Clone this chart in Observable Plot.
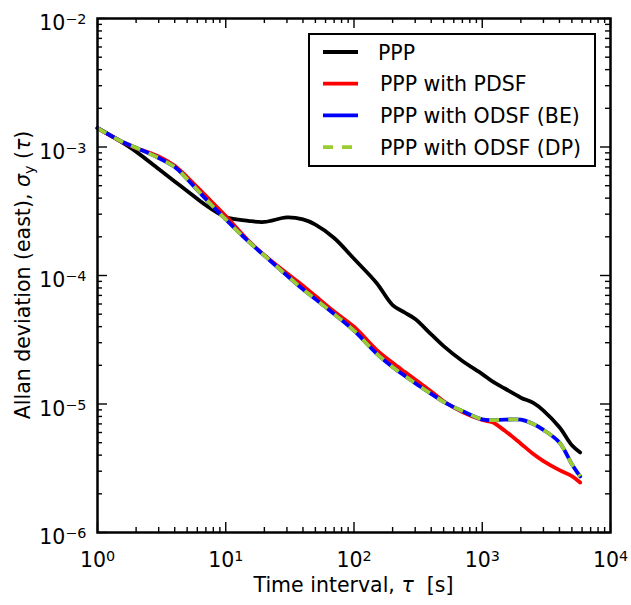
<!DOCTYPE html>
<html><head><meta charset="utf-8">
<script src="https://cdn.jsdelivr.net/npm/d3@7"></script>
<script src="https://cdn.jsdelivr.net/npm/@observablehq/plot@0.6"></script>
<style>body{margin:0;background:#fff} svg{display:block}</style>
</head><body><div id="chart"></div>
<script>
const tau = [1,1.5,2,3,4,5,7,10,15,20,30,40,50,70,100,150,200,250,300,400,500,700,1000,1200,1500,2000,2500,3000,4000,5000,5800];
const ppp = [1.406e-3,1.111e-3,9.21e-4,6.73e-4,5.40e-4,4.55e-4,3.52e-4,2.85e-4,2.66e-4,2.61e-4,2.83e-4,2.73e-4,2.49e-4,1.96e-4,1.35e-4,8.75e-5,5.89e-5,5.13e-5,4.58e-5,3.48e-5,2.82e-5,2.16e-5,1.71e-5,1.50e-5,1.32e-5,1.12e-5,1.02e-5,8.89e-6,6.59e-6,4.78e-6,4.20e-6];
const pppPDSF = [1.40e-3,1.115e-3,9.83e-4,8.45e-4,7.15e-4,5.83e-4,4.16e-4,2.90e-4,1.87e-4,1.44e-4,1.04e-4,8.34e-5,6.92e-5,5.24e-5,3.99e-5,2.64e-5,2.09e-5,1.77e-5,1.55e-5,1.25e-5,1.05e-5,8.65e-6,7.5e-6,7.2e-6,6.19e-6,4.91e-6,4.08e-6,3.60e-6,3.06e-6,2.75e-6,2.45e-6];
const pppODSF_BE = [1.40e-3,1.12e-3,9.86e-4,8.21e-4,6.98e-4,5.63e-4,3.93e-4,2.73e-4,1.84e-4,1.43e-4,1.00e-4,7.82e-5,6.55e-5,5.01e-5,3.72e-5,2.47e-5,1.94e-5,1.65e-5,1.45e-5,1.20e-5,1.04e-5,8.81e-6,7.6e-6,7.5e-6,7.55e-6,7.55e-6,7.00e-6,6.29e-6,5.02e-6,3.40e-6,2.73e-6];
const pppODSF_DP = [1.40e-3,1.12e-3,9.86e-4,8.21e-4,6.98e-4,5.63e-4,3.93e-4,2.73e-4,1.84e-4,1.43e-4,1.00e-4,7.82e-5,6.55e-5,5.01e-5,3.72e-5,2.47e-5,1.94e-5,1.65e-5,1.45e-5,1.20e-5,1.04e-5,8.81e-6,7.6e-6,7.5e-6,7.55e-6,7.55e-6,7.00e-6,6.29e-6,5.02e-6,3.40e-6,2.73e-6];
const seriesNames = ["PPP","PPP with PDSF","PPP with ODSF (BE)","PPP with ODSF (DP)"];
const seriesColors = ["#000000","#ff0000","#0000ff","#9acd32"];
const xMajorTicks = [1,10,100,1000,10000];
const yMajorTicks = [1e-6,1e-5,1e-4,1e-3,1e-2];
const xTickLabels = ["10^0","10^1","10^2","10^3","10^4"];
const yTickLabels = ["10^\u22126","10^\u22125","10^\u22124","10^\u22123","10^\u22122"];
const minorMultipliers = [2,3,4,5,6,7,8,9];
const xMinorTicks = xMajorTicks.slice(0,-1).flatMap(m => minorMultipliers.map(k => m*k));
const yMinorTicks = yMajorTicks.slice(0,-1).flatMap(m => minorMultipliers.map(k => m*k));

const W = 631, H = 605, mL = 97, mR = 21, mT = 18, mB = 73;
const innerW = W - mL - mR, innerH = H - mT - mB;
const FS = 20.5;
const DASH = "10,9";

const allSeries = [ppp, pppPDSF, pppODSF_BE, pppODSF_DP];
const rows = allSeries.map((vals, s) => tau.map((t, i) => ({tau: t, sigma: vals[i], series: seriesNames[s]})));

const lineOpts = (s) => ({x: "tau", y: "sigma", stroke: seriesColors[s], strokeWidth: 3.8, curve: "catmull-rom",
  strokeDasharray: s === 3 ? DASH : null, strokeLinecap: s === 3 ? "butt" : "round"});

const tk = {stroke: "black", strokeWidth: 1.4};
const chart = Plot.plot({
  width: W, height: H,
  marginLeft: mL, marginRight: mR, marginTop: mT, marginBottom: mB,
  style: {fontFamily: "DejaVu Sans", fontSize: FS + "px", background: "white"},
  x: {type: "log", domain: [1, 1e4]},
  y: {type: "log", domain: [1e-6, 1e-2]},
  marks: [
    ...rows.map((r, s) => Plot.line(r, lineOpts(s))),
    Plot.ruleX(xMajorTicks, {x: d => d, insetTop: innerH - 10, ...tk}),
    Plot.ruleX(xMajorTicks, {x: d => d, insetBottom: innerH - 10, ...tk}),
    Plot.ruleX(xMinorTicks, {x: d => d, insetTop: innerH - 5, ...tk}),
    Plot.ruleX(xMinorTicks, {x: d => d, insetBottom: innerH - 5, ...tk}),
    Plot.ruleY(yMajorTicks, {y: d => d, insetRight: innerW - 10, ...tk}),
    Plot.ruleY(yMajorTicks, {y: d => d, insetLeft: innerW - 10, ...tk}),
    Plot.ruleY(yMinorTicks, {y: d => d, insetRight: innerW - 5, ...tk}),
    Plot.ruleY(yMinorTicks, {y: d => d, insetLeft: innerW - 5, ...tk}),
    Plot.frame({stroke: "black", strokeWidth: 2.5}),
    Plot.axisX(xMajorTicks, {tickSize: 0, tickPadding: 20, label: null, fontSize: FS,
      tickFormat: d => xTickLabels[xMajorTicks.indexOf(d)]}),
    Plot.axisY(yMajorTicks, {tickSize: 0, tickPadding: 11, label: null, fontSize: FS, dy: 5,
      tickFormat: d => yTickLabels[yMajorTicks.indexOf(d)]})
  ]
});

document.getElementById("chart").appendChild(chart);
const svgns = "http://www.w3.org/2000/svg";

// superscripts in tick labels
chart.querySelectorAll('[aria-label="x-axis tick label"] text, [aria-label="y-axis tick label"] text').forEach(t => {
  const s = t.textContent;
  if (!s.includes("^")) return;
  const [b, e] = s.split("^");
  t.textContent = b;
  const ts = document.createElementNS(svgns, "tspan");
  ts.setAttribute("dy", "-0.42em");
  ts.style.fontSize = (FS * 0.7) + "px";
  ts.textContent = e;
  t.appendChild(ts);
});

const svg = d3.select(chart);
// axis labels
const xl = svg.append("text").attr("x", mL + innerW / 2).attr("y", 592).attr("text-anchor", "middle")
  .attr("font-size", FS).attr("fill", "black");
xl.append("tspan").text("Time interval, ");
xl.append("tspan").attr("font-style", "italic").text("\u03C4");
xl.append("tspan").attr("xml:space", "preserve").text("  [s]");

const yl = svg.append("text").attr("transform", `translate(30,${mT + innerH / 2}) rotate(-90)`)
  .attr("text-anchor", "middle").attr("font-size", FS).attr("fill", "black");
yl.append("tspan").text("Allan deviation (east), ");
yl.append("tspan").attr("font-style", "italic").text("\u03C3");
yl.append("tspan").attr("dy", 4).attr("font-size", FS * 0.7).text("y");
yl.append("tspan").attr("dy", -4).text(" (");
yl.append("tspan").attr("font-style", "italic").text("\u03C4");
yl.append("tspan").text(")");

// legend
const lg = svg.append("g");
lg.append("rect").attr("x", 309).attr("y", 34).attr("width", 286).attr("height", 132)
  .attr("fill", "white").attr("stroke", "black").attr("stroke-width", 2);
seriesNames.forEach((name, i) => {
  const yy = 52 + i * 31.7;
  lg.append("line").attr("x1", 323).attr("x2", 358).attr("y1", yy).attr("y2", yy)
    .attr("stroke", seriesColors[i]).attr("stroke-width", 3.8)
    .attr("stroke-dasharray", i === 3 ? DASH : null);
  lg.append("text").attr("x", i === 0 ? 378 : 380).attr("y", yy + 7.5).attr("text-anchor", "start")
    .attr("font-size", FS).attr("fill", "black").text(name);
});
</script></body></html>
